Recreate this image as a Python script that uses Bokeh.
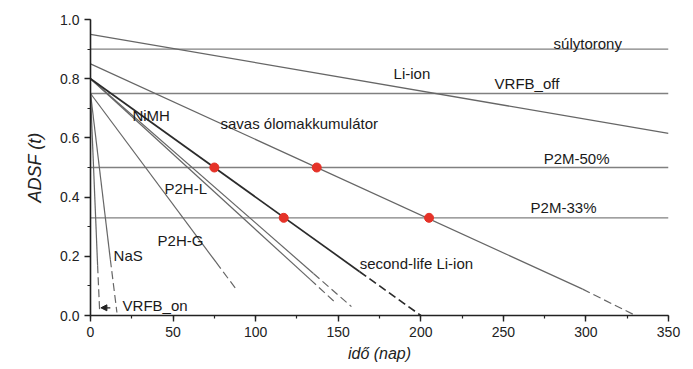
from bokeh.plotting import figure
from bokeh.models import Range1d, SingleIntervalTicker, Arrow, NormalHead, PrintfTickFormatter, ColumnDataSource
from bokeh.core.properties import value
from bokeh.embed import file_html
from bokeh.resources import INLINE

# ---- data ----
suly_x = [0, 350]; suly_y = [0.9, 0.9]
liion_x = [0, 350]; liion_y = [0.95, 0.615]
vrfboff_x = [0, 350]; vrfboff_y = [0.75, 0.75]
p2m50_x = [0, 350]; p2m50_y = [0.5, 0.5]
p2m33_x = [0, 350]; p2m33_y = [0.33, 0.33]

savas_x = [0, 298]; savas_y = [0.85, 0.089]
savas_dx = [298, 330]; savas_dy = [0.089, 0.0]

second_x = [0, 163]; second_y = [0.8, 0.148]
second_dx = [163, 200]; second_dy = [0.148, 0.0]

nimh_x = [0, 133]; nimh_y = [0.8, 0.122]
nimh_dx = [133, 148]; nimh_dy = [0.122, 0.045]

p2hl_x = [0, 135]; p2hl_y = [0.8, 0.142]
p2hl_dx = [135, 158]; p2hl_dy = [0.142, 0.03]

p2hg_x = [0, 76]; p2hg_y = [0.75, 0.18]
p2hg_dx = [76, 89]; p2hg_dy = [0.18, 0.083]

nas_x = [0, 12]; nas_y = [0.75, 0.19]
nas_dx = [12, 16]; nas_dy = [0.19, 0.01]

vrfbon_x = [0, 4.3]; vrfbon_y = [0.75, 0.17]
vrfbon_dx = [4.3, 5.5]; vrfbon_dy = [0.17, 0.02]

dot_x = [75, 137, 117, 205]
dot_y = [0.5, 0.5, 0.33, 0.33]

label_text = ["súlytorony", "Li-ion", "VRFB_off", "savas ólomakkumulátor", "NiMH",
              "P2M-50%", "P2M-33%", "P2H-L", "P2H-G", "NaS", "VRFB_on", "second-life Li-ion"]
label_x = [280.4, 183.5, 244.7, 78.7, 25.4, 274.4, 266.5, 44.8, 40.6, 14.0, 19.4, 163.0]
label_y = [0.919, 0.818, 0.784, 0.649, 0.676, 0.53, 0.365, 0.429, 0.253, 0.203, 0.034, 0.176]

arrow_x = [12.0, 6.3]
arrow_y = [0.026, 0.026]

x_label = "idő (nap)"
y_label = "ADSF (t)"

# ---- figure ----
p = figure(width=693, height=369, output_backend="svg", toolbar_location=None,
           x_range=Range1d(0, 350), y_range=Range1d(0, 1.0))
p.min_border_left = 90
p.min_border_right = 25
p.min_border_top = 19
p.min_border_bottom = 54
p.outline_line_color = None
p.grid.visible = False
p.background_fill_color = "white"
p.border_fill_color = "white"

FONT = "Liberation Sans"

for ax in (p.xaxis[0], p.yaxis[0]):
    ax.axis_line_color = "#222222"
    ax.axis_line_width = 1.6
    ax.major_tick_line_color = "#222222"
    ax.minor_tick_line_color = "#222222"
    ax.major_tick_line_width = 1.4
    ax.minor_tick_line_width = 1.2
    ax.major_tick_out = 6
    ax.major_tick_in = 0
    ax.minor_tick_out = 3
    ax.minor_tick_in = 0
    ax.major_label_text_font = FONT
    ax.major_label_text_font_size = "14px"
    ax.major_label_text_color = "#222222"
    ax.axis_label_text_font = FONT
    ax.axis_label_text_font_style = "italic"
    ax.axis_label_text_color = "#222222"

p.xaxis.ticker = SingleIntervalTicker(interval=50, num_minor_ticks=2)
p.yaxis.ticker = SingleIntervalTicker(interval=0.2, num_minor_ticks=2)
p.yaxis.formatter = PrintfTickFormatter(format="%.1f")
p.xaxis.axis_label = x_label
p.yaxis.axis_label = y_label
p.xaxis.axis_label_text_font_size = "16px"
p.yaxis.axis_label_text_font_size = "18px"
p.xaxis.axis_label_standoff = 5
p.yaxis.axis_label_standoff = 12

HCOL = "#808080"
DCOL = "#666666"

for xs, ys in [(suly_x, suly_y), (vrfboff_x, vrfboff_y), (p2m50_x, p2m50_y), (p2m33_x, p2m33_y)]:
    p.line(xs, ys, line_color=HCOL, line_width=1.3)

p.line(liion_x, liion_y, line_color=DCOL, line_width=1.3)

for (xs, ys, dxs, dys) in [(savas_x, savas_y, savas_dx, savas_dy),
                           (nimh_x, nimh_y, nimh_dx, nimh_dy),
                           (p2hl_x, p2hl_y, p2hl_dx, p2hl_dy),
                           (p2hg_x, p2hg_y, p2hg_dx, p2hg_dy),
                           (nas_x, nas_y, nas_dx, nas_dy),
                           (vrfbon_x, vrfbon_y, vrfbon_dx, vrfbon_dy)]:
    p.line(xs, ys, line_color=DCOL, line_width=1.2)
    p.line(dxs, dys, line_color=DCOL, line_width=1.2, line_dash="8 4")

p.line(second_x, second_y, line_color="#2b2b2b", line_width=1.7)
p.line(second_dx, second_dy, line_color="#2b2b2b", line_width=1.7, line_dash="8 4")

p.scatter(dot_x, dot_y, size=9, fill_color="#e53228", line_color="#e53228")

p.add_layout(Arrow(end=NormalHead(size=6, fill_color="#222222", line_color="#222222"),
                   x_start=arrow_x[0], y_start=arrow_y[0], x_end=arrow_x[1], y_end=arrow_y[1],
                   line_color="#222222", line_width=1.2))

src = ColumnDataSource(dict(x=label_x, y=label_y, t=label_text))
p.text(x="x", y="y", text="t", source=src, text_font=value(FONT), text_font_size="15px",
       text_color="#1a1a1a", text_align="left", text_baseline="middle")

open("out.html", "w").write(file_html(p, INLINE))
